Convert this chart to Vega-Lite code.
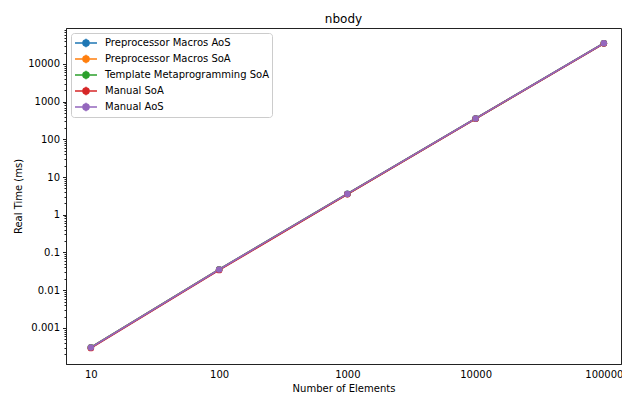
{
  "$schema": "https://vega.github.io/schema/vega-lite/v6.json",
  "width": 555,
  "height": 336,
  "autosize": {"type": "none"},
  "padding": {"left": 66, "top": 28, "right": 1, "bottom": 35},
  "background": "white",
  "title": {"text": "nbody", "fontSize": 12, "font": "DejaVu Sans", "fontWeight": "normal", "color": "black", "offset": -1},
  "config": {
    "font": "DejaVu Sans",
    "view": {"stroke": "#222", "strokeWidth": 1},
    "axis": {"domainColor": "#222", "tickColor": "#222", "labelColor": "black", "titleColor": "black", "labelFontSize": 10, "titleFontSize": 10, "titleFontWeight": "normal", "grid": false}
  },
  "data": {"values": [
    {"n": 10, "t": 0.00030, "s": "Preprocessor Macros AoS"},
    {"n": 100, "t": 0.0355, "s": "Preprocessor Macros AoS"},
    {"n": 1000, "t": 3.6, "s": "Preprocessor Macros AoS"},
    {"n": 10000, "t": 358, "s": "Preprocessor Macros AoS"},
    {"n": 100000, "t": 35500, "s": "Preprocessor Macros AoS"},
    {"n": 10, "t": 0.00030, "s": "Preprocessor Macros SoA"},
    {"n": 100, "t": 0.0352, "s": "Preprocessor Macros SoA"},
    {"n": 1000, "t": 3.55, "s": "Preprocessor Macros SoA"},
    {"n": 10000, "t": 355, "s": "Preprocessor Macros SoA"},
    {"n": 100000, "t": 35200, "s": "Preprocessor Macros SoA"},
    {"n": 10, "t": 0.00030, "s": "Template Metaprogramming SoA"},
    {"n": 100, "t": 0.0353, "s": "Template Metaprogramming SoA"},
    {"n": 1000, "t": 3.57, "s": "Template Metaprogramming SoA"},
    {"n": 10000, "t": 356, "s": "Template Metaprogramming SoA"},
    {"n": 100000, "t": 35300, "s": "Template Metaprogramming SoA"},
    {"n": 10, "t": 0.00029, "s": "Manual SoA"},
    {"n": 100, "t": 0.0340, "s": "Manual SoA"},
    {"n": 1000, "t": 3.5, "s": "Manual SoA"},
    {"n": 10000, "t": 352, "s": "Manual SoA"},
    {"n": 100000, "t": 35000, "s": "Manual SoA"},
    {"n": 10, "t": 0.00030, "s": "Manual AoS"},
    {"n": 100, "t": 0.0355, "s": "Manual AoS"},
    {"n": 1000, "t": 3.58, "s": "Manual AoS"},
    {"n": 10000, "t": 357, "s": "Manual AoS"},
    {"n": 100000, "t": 35400, "s": "Manual AoS"}
  ]},
  "mark": {"type": "line", "strokeWidth": 1.7, "point": {"filled": true, "size": 42, "opacity": 1}},
  "encoding": {
    "x": {
      "field": "n", "type": "quantitative",
      "scale": {"type": "log", "domain": [6.4, 136000], "nice": false},
      "axis": {"title": "Number of Elements", "values": [10, 100, 1000, 10000, 100000], "format": "d", "ticks": false, "labelPadding": 5, "titlePadding": 4, "labelFlush": false}
    },
    "y": {
      "field": "t", "type": "quantitative",
      "scale": {"type": "log", "domain": [0.00011, 90000], "nice": false},
      "axis": {
        "title": "Real Time (ms)", "titlePadding": 4,
        "values": [0.0002,0.0003,0.0004,0.0005,0.0006,0.0007,0.0008,0.0009,0.001,0.002,0.003,0.004,0.005,0.006,0.007,0.008,0.009,0.01,0.02,0.03,0.04,0.05,0.06,0.07,0.08,0.09,0.1,0.2,0.3,0.4,0.5,0.6,0.7,0.8,0.9,1,2,3,4,5,6,7,8,9,10,20,30,40,50,60,70,80,90,100,200,300,400,500,600,700,800,900,1000,2000,3000,4000,5000,6000,7000,8000,9000,10000,20000,30000,40000,50000,60000,70000,80000],
        "labelExpr": "abs(log(datum.value)/LN10 - round(log(datum.value)/LN10)) < 0.000001 ? format(datum.value, '~g') : ''",
        "tickSize": {"condition": {"test": "abs(log(datum.value)/LN10 - round(log(datum.value)/LN10)) < 0.000001", "value": 3.5}, "value": 2},
        "labelFlush": false, "labelOverlap": false, "labelPadding": 3
      }
    },
    "color": {
      "field": "s", "type": "nominal",
      "sort": ["Preprocessor Macros AoS", "Preprocessor Macros SoA", "Template Metaprogramming SoA", "Manual SoA", "Manual AoS"],
      "scale": {"domain": ["Preprocessor Macros AoS", "Preprocessor Macros SoA", "Template Metaprogramming SoA", "Manual SoA", "Manual AoS"], "range": ["#1f77b4", "#ff7f0e", "#2ca02c", "#d62728", "#9467bd"]},
      "legend": {
        "title": null, "orient": "none", "legendX": 5, "legendY": 5,
        "fillColor": "white", "strokeColor": "#ccc", "cornerRadius": 3, "padding": 2,
        "labelFontSize": 10, "labelColor": "black", "rowPadding": 0, "labelLimit": 400,
        "symbolOffset": 5, "labelOffset": 11,
        "symbolType": "M-1.57,0L1.57,0M0,-0.6L0,0.6M0.43,0A0.43,0.43 0 1,1 -0.43,0A0.43,0.43 0 1,1 0.43,0Z",
        "symbolSize": 196, "symbolStrokeWidth": 1.5, "symbolFillColor": null
      }
    }
  }
}
